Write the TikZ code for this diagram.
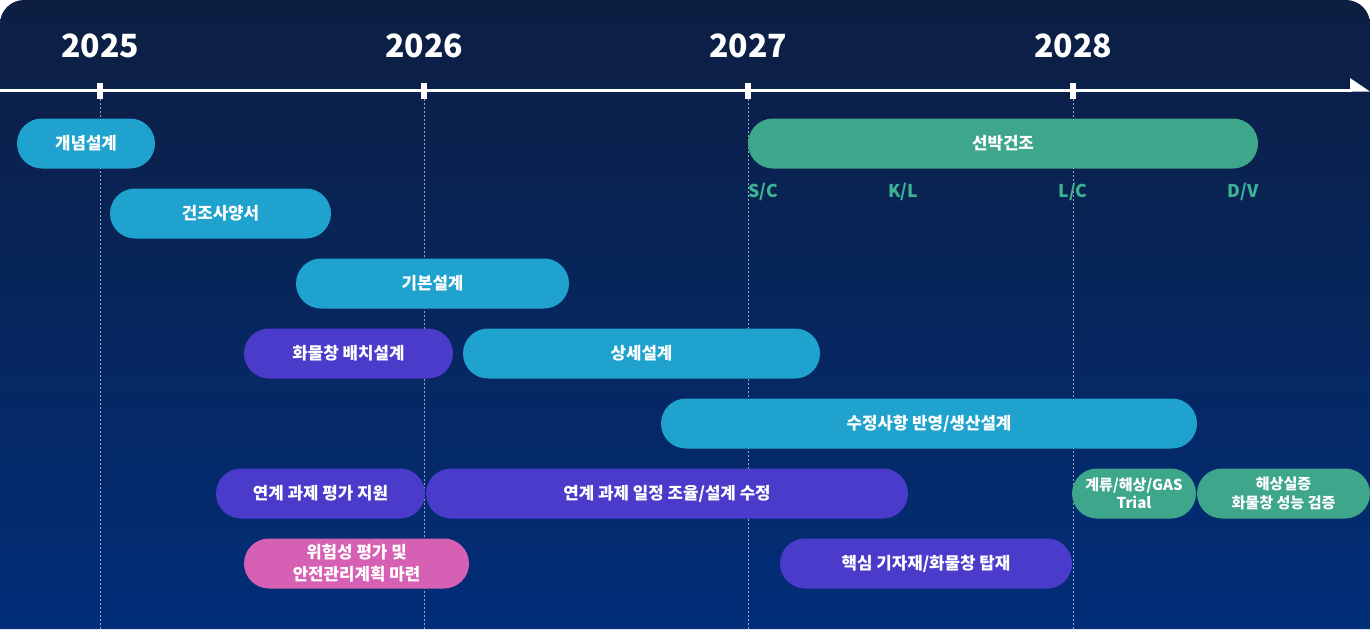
\documentclass[tikz,border=0pt]{standalone}
\usepackage{fontspec}
\setmainfont{Noto Sans CJK KR}
\usetikzlibrary{shapes.misc}
\definecolor{bgtop}{RGB}{13,30,66}
\definecolor{bgbot}{RGB}{1,46,121}
\definecolor{cyanbar}{RGB}{31,163,206}
\definecolor{greenbar}{RGB}{62,166,139}
\definecolor{purplebar}{RGB}{74,59,203}
\definecolor{pinkbar}{RGB}{214,96,179}
\definecolor{mstone}{RGB}{60,180,148}
\definecolor{gridc}{RGB}{150,165,195}
\newcommand\tbar[7][]{\node[gbar, fill=#6, minimum width={(#4-#3)*0.75}, #1] (#2) at ({(#3+#4)/2},#5) {#7};}
\begin{document}
\begin{tikzpicture}[x=0.75pt,y=-0.75pt,
  gbar/.style={rounded rectangle, inner sep=0pt, minimum height=37.5pt, text=white,
    font=\bfseries\fontsize{12.6}{16.5}\selectfont, align=center},
  smalltxt/.style={font=\bfseries\fontsize{11.3}{13.8}\selectfont},
  yearlbl/.style={text=white, font=\bfseries\fontsize{24}{28}\selectfont, inner sep=0pt},
  mslbl/.style={text=mstone, font=\bfseries\fontsize{13.2}{15}\selectfont, inner sep=0pt},
  tickmark/.style={fill=white, inner sep=0pt, minimum width=4.5pt, minimum height=12pt},
  gridline/.style={gridc, line width=0.75pt, dash pattern=on 1.5pt off 1.5pt},
  axisline/.style={white, line width=1.6pt}]
\useasboundingbox (0,0) rectangle (1370,629);
\fill[white] (0,0) rectangle (1370,629);
\shade[top color=bgtop, bottom color=bgbot]
  (0,629) {[rounded corners=18pt] -- (0,0) -- (1370,0)} -- (1370,629) -- cycle;

% axis
\coordinate (axs) at (0,90.5);
\coordinate (axe) at (1352,90.5);
\draw[axisline] (axs) -- (axe);
\fill[white] (1350,78) -- (1350,91.6) -- (1370,91.6) -- cycle;

% ticks, years, grid
\foreach \n/\x/\yr in {t25/100/2025, t26/424/2026, t27/748/2027, t28/1073/2028}{
  \coordinate (\n b) at (\x,629);
  \draw[gridline] (\x,99) -- (\n b);
  \node[tickmark] (\n) at (\x,91) {};
  \node[yearlbl] (y\n) at (\x,46) {\yr};
}

% bars
\tbar{b1}{17}{155}{143.5}{cyanbar}{개념설계}
\tbar{b2}{110}{331}{213.5}{cyanbar}{건조사양서}
\tbar{b3}{296}{569}{283.5}{cyanbar}{기본설계}
\tbar{b4}{244}{453}{353.5}{purplebar}{화물창 배치설계}
\tbar{b5}{463}{820}{353.5}{cyanbar}{상세설계}
\tbar{b6}{661}{1197}{423.5}{cyanbar}{수정사항 반영/생산설계}
\tbar{b7}{216}{425}{493.5}{purplebar}{연계 과제 평가 지원}
\tbar{b8}{426}{908}{493.5}{purplebar}{연계 과제 일정 조율/설계 수정}
\tbar[smalltxt]{b9}{1072}{1196}{493.5}{greenbar}{계류/해상/GAS\\Trial}
\tbar[smalltxt]{b10}{1197}{1370}{493.5}{greenbar}{해상실증\\화물창 성능 검증}
\tbar{b11}{244}{469}{563.5}{pinkbar}{위험성 평가 및\\안전관리계획 마련}
\tbar{b12}{780}{1072}{563.5}{purplebar}{핵심 기자재/화물창 탑재}
\tbar{b13}{748}{1258}{143.5}{greenbar}{선박건조}

% milestones
\node[mslbl] (m1) at (763.5,192) {S/C};
\node[mslbl] (m2) at (903,192) {K/L};
\node[mslbl] (m3) at (1073,192) {L/C};
\node[mslbl] (m4) at (1243,192) {D/V};
\end{tikzpicture}
\end{document}
